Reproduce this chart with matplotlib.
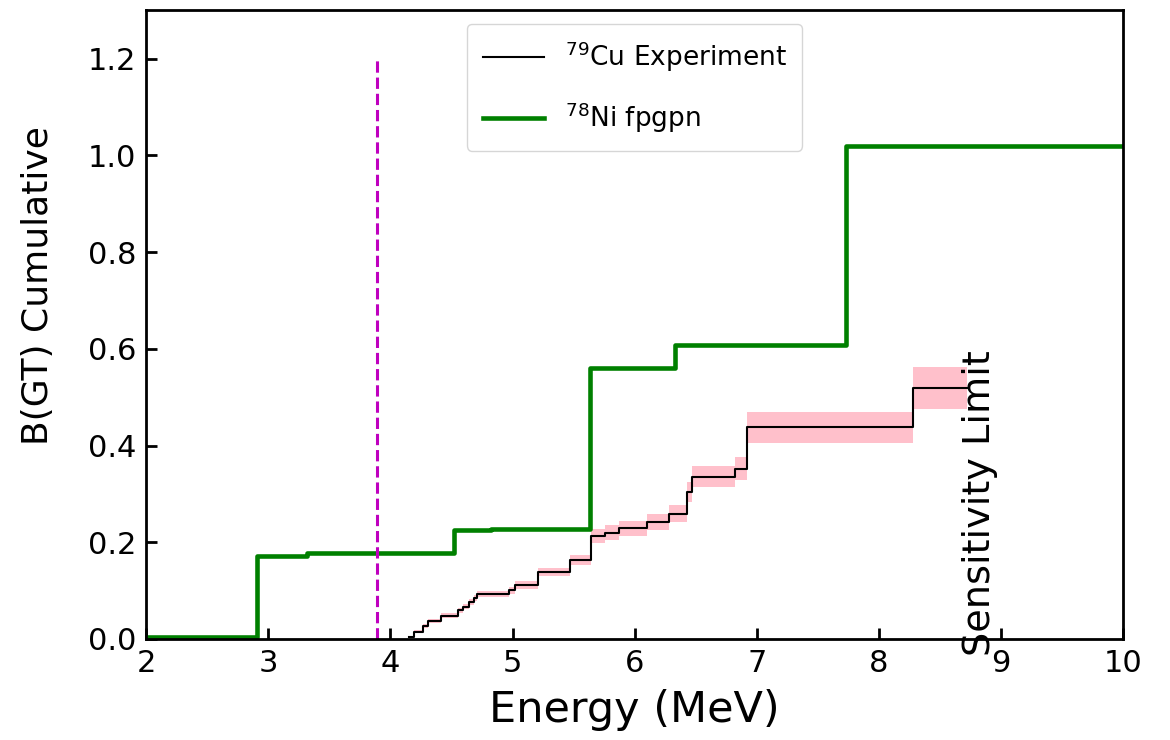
import numpy as np
import matplotlib
matplotlib.use('Agg')
import matplotlib.pyplot as plt

# 78Ni fpgpn shell model, cumulative B(GT)
theo_E = [2.0, 2.91, 3.32, 4.52, 4.82, 5.63, 6.33, 7.73, 10.0]
theo_B = [0.005, 0.172, 0.178, 0.225, 0.228, 0.561, 0.608, 1.020, 1.020]

# 79Cu experiment, cumulative B(GT) with error
exp_E = [4.15, 4.19, 4.27, 4.31, 4.41, 4.55, 4.59, 4.64, 4.68, 4.71, 4.97, 5.02,
         5.21, 5.47, 5.64, 5.76, 5.87, 6.10, 6.28, 6.43, 6.47, 6.82, 6.92, 8.28, 8.72]
exp_B = [0.005, 0.015, 0.026, 0.038, 0.048, 0.059, 0.067, 0.077, 0.085, 0.093, 0.101, 0.112,
         0.139, 0.163, 0.213, 0.220, 0.229, 0.242, 0.259, 0.304, 0.336, 0.352, 0.438, 0.519, 0.519]
exp_err = [0.002, 0.003, 0.004, 0.004, 0.005, 0.005, 0.006, 0.006, 0.006, 0.007, 0.007, 0.008,
           0.008, 0.010, 0.014, 0.015, 0.016, 0.017, 0.018, 0.020, 0.022, 0.024, 0.032, 0.043, 0.043]

sn_energy = 3.89  # dashed line

exp_E = np.array(exp_E)
exp_B = np.array(exp_B)
exp_err = np.array(exp_err)

fig = plt.figure(figsize=(11.7, 7.4), dpi=100)
ax = fig.add_axes([0.125, 0.1365, 0.835, 0.8495])

ax.fill_between(exp_E, exp_B - exp_err, exp_B + exp_err, step='post', color='pink', lw=0)
ax.step(exp_E, exp_B, where='post', color='black', lw=1.5, label=r'$^{79}$Cu Experiment')
ax.step(theo_E, theo_B, where='post', color='green', lw=3.3, label=r'$^{78}$Ni fpgpn')
ax.plot([sn_energy, sn_energy], [0, 1.2], color='m', ls='--', lw=2.2)

ax.text(8.83, 0.28, 'Sensitivity Limit', rotation=90, ha='center', va='center', fontsize=27.5)

ax.set_xlim(2, 10)
ax.set_ylim(0, 1.3)
ax.set_xticks(range(2, 11))
ax.set_yticks(np.arange(0, 1.21, 0.2))
ax.tick_params(direction='in', length=8, width=2, labelsize=22, pad=7)
for s in ax.spines.values():
    s.set_linewidth(2)

ax.set_xlabel('Energy (MeV)', fontsize=31, labelpad=8)
ax.set_ylabel('B(GT) Cumulative', fontsize=26)
ax.yaxis.set_label_coords(-0.093, 0.563)
ax.legend(loc='upper center', fontsize=19, handlelength=2.3, labelspacing=1.0,
          borderpad=0.6, handletextpad=0.8)

fig.savefig('out.png', dpi=100)
